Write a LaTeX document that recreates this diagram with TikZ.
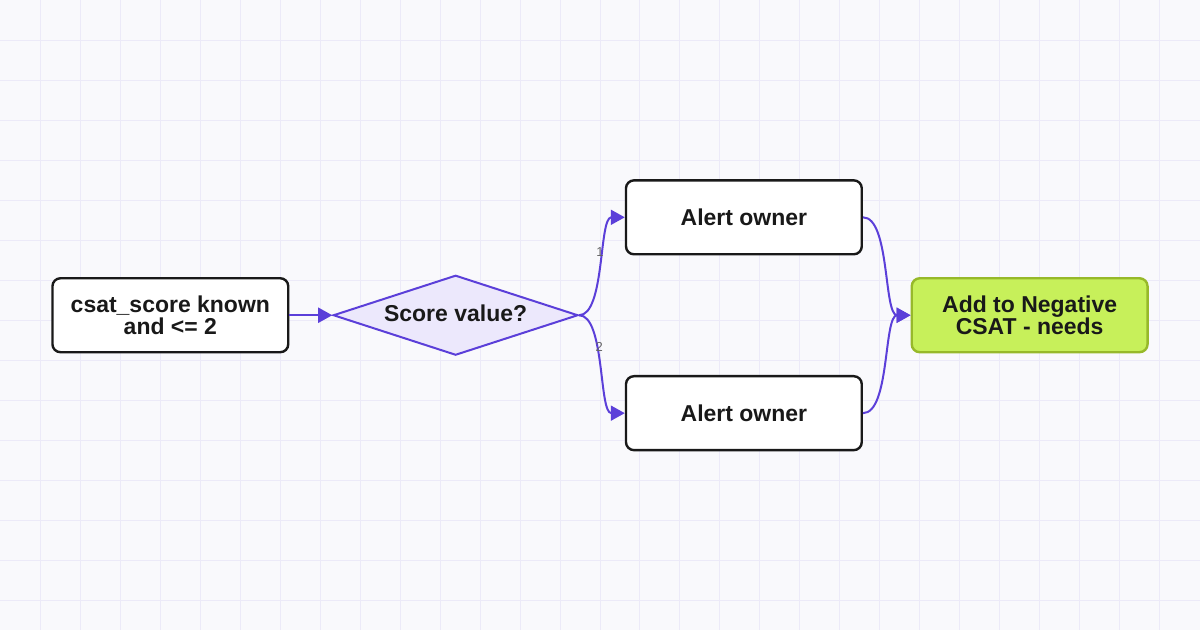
\documentclass[tikz,border=0pt]{standalone}
\usepackage{fontspec}
\setmainfont{Liberation Sans}
\usetikzlibrary{shapes.geometric,arrows.meta}
\definecolor{grid}{HTML}{ECEAF8}
\definecolor{bg}{HTML}{F9F9FC}
\definecolor{edge}{HTML}{5B3FD9}
\definecolor{dfill}{HTML}{ECE8FC}
\definecolor{gfill}{HTML}{C7F05A}
\definecolor{gdraw}{HTML}{97B92A}
\begin{document}
\begin{tikzpicture}[x=1pt,y=-1pt,
  tf/.style={font=\bfseries\fontsize{23}{21.5}\selectfont,text=black!90},
  box/.style={tf,draw=black!90,line width=2.4pt,rounded corners=8pt,fill=white,minimum width=236pt,minimum height=74pt,align=center},
  arr/.style={draw=edge,line width=2pt,-{Triangle[length=14pt,width=15pt]}},
  lab/.style={font=\fontsize{13}{13}\selectfont,text=black!60}]
\fill[bg] (0,0) rectangle (1200,630);
\foreach \x in {40,80,...,1160} \draw[grid,line width=1pt] (\x,0) -- (\x,630);
\foreach \y in {40,80,...,600} \draw[grid,line width=1pt] (0,\y) -- (1200,\y);
\useasboundingbox (0,0) rectangle (1200,630);
\node[box] (a) at (170,315) {csat\_score known\\and <= 2};
\node[diamond,draw=edge,line width=2pt,fill=dfill,minimum width=245pt,minimum height=80pt,inner sep=0pt,aspect=3] (d) at (455.5,315) {};
\node[tf] (dt) at (455.5,313) {Score value?};
\node[box] (b1) at (744,217) {Alert owner};
\node[box] (b2) at (744,413) {Alert owner};
\node[box,fill=gfill,draw=gdraw] (c) at (1030,315) {Add to Negative\\CSAT - needs};
\draw[arr] (a.east) -- (d.west);
\draw[arr] (d.east) .. controls +(26,0) and +(-26,0) .. (b1.west) node[lab,pos=0.6,xshift=-5pt] (l1) {1};
\draw[arr] (d.east) .. controls +(26,0) and +(-26,0) .. (b2.west) node[lab,pos=0.38,xshift=1pt] (l2) {2};
\draw[arr] (b1.east) .. controls +(27,0) and +(-27,0) .. (c.west);
\draw[arr] (b2.east) .. controls +(27,0) and +(-27,0) .. (c.west);
\end{tikzpicture}
\end{document}
